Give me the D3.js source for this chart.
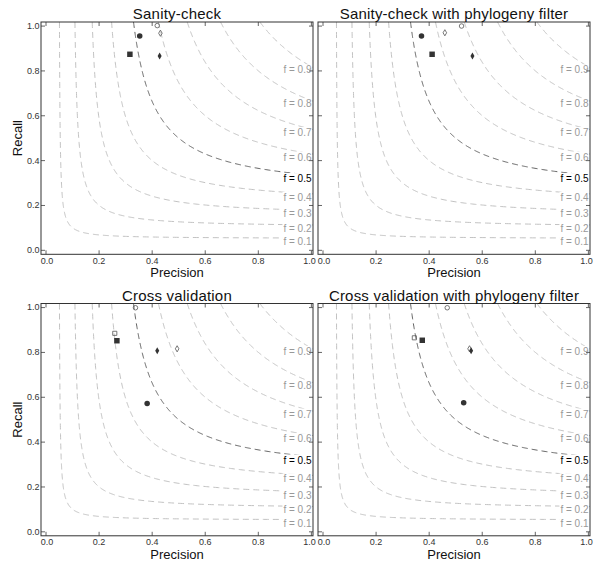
<!DOCTYPE html>
<html><head><meta charset="utf-8">
<script src="https://cdn.jsdelivr.net/npm/d3@7"></script>
<style>body{margin:0;background:#fff}svg{display:block;font-family:"Liberation Sans",Arial,sans-serif}</style>
</head><body><svg width="600" height="568"></svg>
<script>
// ---- data ----
const fValues = [0.1, 0.2, 0.3, 0.4, 0.5, 0.6, 0.7, 0.8, 0.9];
const highlightF = 0.5;
const axisTicks = [0, 0.2, 0.4, 0.6, 0.8, 1.0];
const panelTitles = ["Sanity-check", "Sanity-check with phylogeny filter", "Cross validation", "Cross validation with phylogeny filter"];
const markerKinds = ["openCircle", "openDiamond", "openSquare", "filledCircle", "filledSquare", "filledDiamond"];
// precision / recall in markerKinds order (null = not shown)
const sanityPrecision      = [0.421, 0.433, null, 0.355, 0.318, 0.430];
const sanityRecall         = [1.000, 0.966, null, 0.954, 0.872, 0.864];
const sanityPhyloPrecision = [0.524, 0.461, null, 0.373, 0.413, 0.565];
const sanityPhyloRecall    = [0.998, 0.968, null, 0.954, 0.872, 0.864];
const crossPrecision       = [0.339, 0.496, 0.261, 0.383, 0.269, 0.421];
const crossRecall          = [0.997, 0.814, 0.883, 0.570, 0.850, 0.805];
const crossPhyloPrecision  = [0.470, 0.554, 0.346, 0.532, 0.376, 0.560];
const crossPhyloRecall     = [0.997, 0.814, 0.863, 0.573, 0.852, 0.805];

const panelData = [
  [sanityPrecision, sanityRecall],
  [sanityPhyloPrecision, sanityPhyloRecall],
  [crossPrecision, crossRecall],
  [crossPhyloPrecision, crossPhyloRecall]
];

// ---- layout ----
const W = 272, H = 232.3;
const panelPos = [{x: 41, y: 22}, {x: 318, y: 22}, {x: 41, y: 303.5}, {x: 318, y: 303.5}];
const xDom = [-0.017, 1.008], yDom = [-0.02, 1.016];

const svg = d3.select("svg");

const markerStyle = {
  openCircle:   {type: d3.symbolCircle,  size: 16, fill: "none"},
  openDiamond:  {type: d3.symbolDiamond, size: 11, fill: "none"},
  openSquare:   {type: d3.symbolSquare,  size: 17, fill: "none"},
  filledCircle: {type: d3.symbolCircle,  size: 24, fill: "#333"},
  filledSquare: {type: d3.symbolSquare,  size: 30, fill: "#333"},
  filledDiamond:{type: d3.symbolDiamond, size: 14, fill: "#333"}
};

panelPos.forEach((pos, i) => {
  const g = svg.append("g").attr("transform", `translate(${pos.x},${pos.y})`);
  const x = d3.scaleLinear().domain(xDom).range([0, W]);
  const y = d3.scaleLinear().domain(yDom).range([H, 0]);

  const clipId = "clip" + i;
  g.append("clipPath").attr("id", clipId).append("rect").attr("width", W).attr("height", H);

  // iso-F curves
  const curves = g.append("g").attr("clip-path", `url(#${clipId})`);
  const line = d3.line().x(d => x(d[0])).y(d => y(d[1]));
  fValues.forEach(f => {
    const sMin = -Math.log((2 * yDom[1] - f) / f);
    const sMax = Math.log((2 * xDom[1] - f) / f);
    const pts = d3.range(0, 301).map(k => {
      const s = sMin + (sMax - sMin) * k / 300;
      return [(f + f * Math.exp(s)) / 2, (f + f * Math.exp(-s)) / 2];
    });
    curves.append("path").attr("d", line(pts))
      .attr("fill", "none")
      .attr("stroke", f === highlightF ? "#555" : "#bbb")
      .attr("stroke-width", 0.9)
      .attr("stroke-dasharray", "6,4");
  });

  // f labels
  fValues.forEach(f => {
    const lg = g.append("g");
    const t = lg.append("text")
      .attr("x", W - 1.5).attr("y", y(f / (2 - f)) + 3.5)
      .attr("text-anchor", "end").attr("dominant-baseline", "central")
      .attr("font-size", 10)
      .attr("fill", f === highlightF ? "#000" : "#999")
      .text("f = " + f.toFixed(1));
    const bb = t.node().getBBox();
    lg.insert("rect", "text").attr("x", bb.x - 1).attr("y", bb.y).attr("width", bb.width + 1).attr("height", bb.height).attr("fill", "#fff");
  });

  // axes (inward ticks)
  const bottom = g.append("g").attr("transform", `translate(0,${H})`)
    .call(d3.axisBottom(x).tickValues(axisTicks).tickFormat(d3.format(".1f")).tickSizeInner(-4).tickSizeOuter(0).tickPadding(3));
  const top = g.append("g").call(d3.axisTop(x).tickValues(axisTicks).tickFormat("").tickSizeInner(-4).tickSizeOuter(0));
  const right = g.append("g").attr("transform", `translate(${W},0)`)
    .call(d3.axisRight(y).tickValues(axisTicks).tickFormat("").tickSizeInner(-4).tickSizeOuter(0));
  const left = g.append("g")
    .call(d3.axisLeft(y).tickValues(axisTicks).tickFormat(i % 2 === 0 ? d3.format(".1f") : "").tickSizeInner(-4).tickSizeOuter(0).tickPadding(1.5));
  [bottom, top, right, left].forEach(a => {
    a.select(".domain").remove();
    a.selectAll(".tick line").attr("stroke", "#666");
    a.selectAll("text").attr("font-size", 9).attr("fill", "#333").attr("font-family", "Liberation Sans, Arial, sans-serif");
  });
  // keep end labels inside like the reference
  bottom.selectAll(".tick text").attr("dx", d => d === 0 ? 1 : (d === 1 ? -2 : 0));

  // frame
  g.append("rect").attr("width", W).attr("height", H).attr("fill", "none").attr("stroke", "#333").attr("stroke-width", 1);

  // markers
  const [prec, rec] = panelData[i];
  markerKinds.forEach((k, j) => {
    if (prec[j] == null) return;
    const st = markerStyle[k];
    g.append("path")
      .attr("d", d3.symbol().type(st.type).size(st.size)())
      .attr("transform", `translate(${x(prec[j])},${y(rec[j])})`)
      .attr("fill", st.fill)
      .attr("stroke", st.fill === "none" ? "#555" : "none")
      .attr("stroke-width", 0.8);
  });

  // titles and labels
  g.append("text").attr("x", W / 2).attr("y", -3).attr("text-anchor", "middle")
    .attr("font-size", 15).attr("letter-spacing", 0.2).attr("fill", "#111").text(panelTitles[i]);
  g.append("text").attr("x", W / 2).attr("y", H + 23).attr("text-anchor", "middle")
    .attr("font-size", 13).attr("fill", "#111").text("Precision");
  if (i % 2 === 0) {
    g.append("text").attr("transform", `translate(${22 - pos.x},${H / 2}) rotate(-90)`)
      .attr("text-anchor", "middle").attr("font-size", 13).attr("fill", "#111").text("Recall");
  }
});
</script>
</body></html>
